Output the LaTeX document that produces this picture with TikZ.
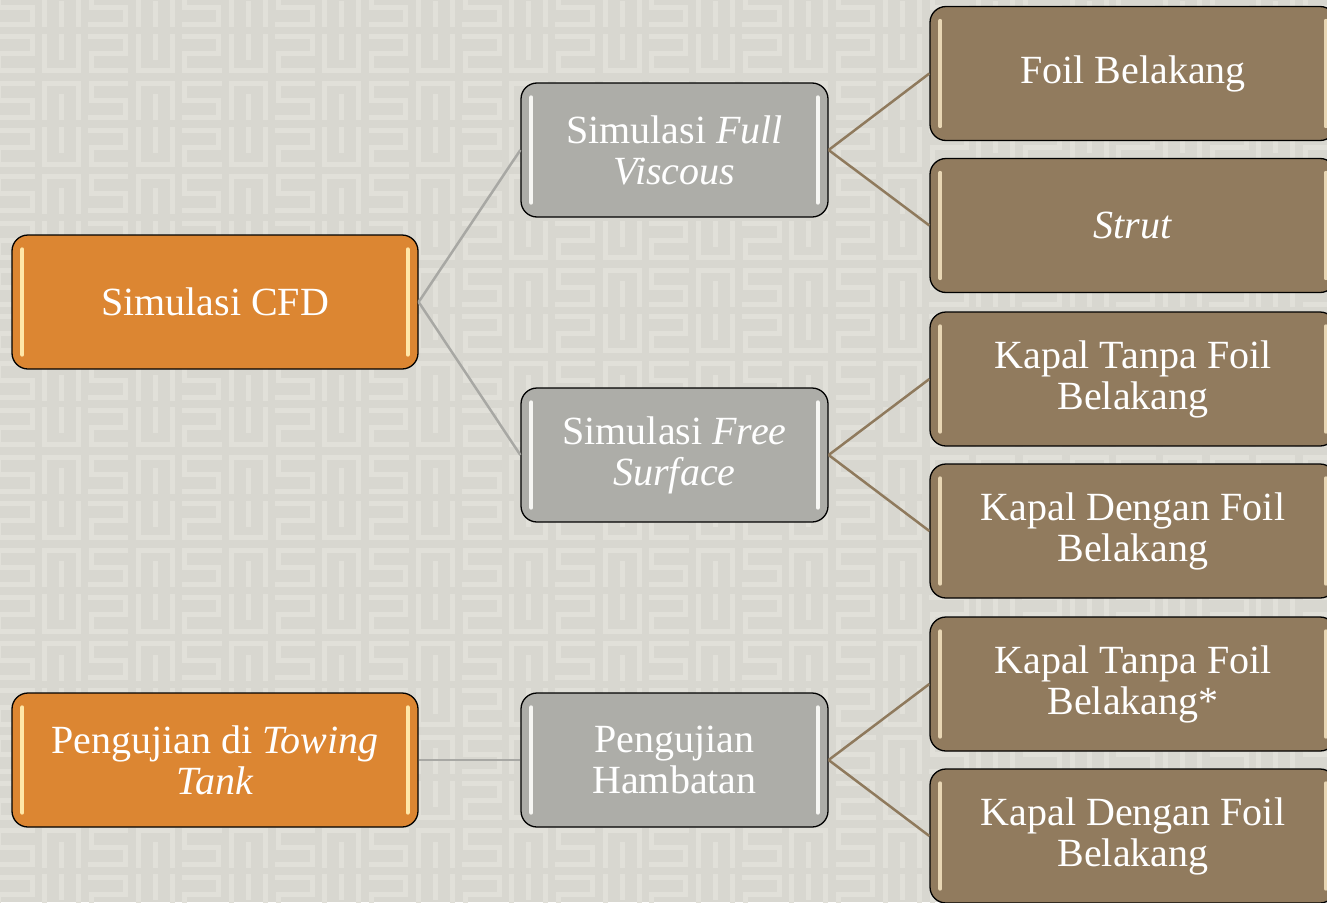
\documentclass[tikz,border=0pt]{standalone}
\usepackage{fontspec}
\setmainfont{Liberation Serif}
\definecolor{bgc}{RGB}{216,215,208}
\definecolor{patc}{RGB}{225,224,217}
\definecolor{orangec}{RGB}{220,134,50}
\definecolor{grayc}{RGB}{173,173,168}
\definecolor{brownc}{RGB}{145,123,94}
\definecolor{hlorange}{RGB}{255,231,168}
\definecolor{hlgray}{RGB}{246,246,243}
\definecolor{hlbrown}{RGB}{232,214,180}
\definecolor{linegray}{RGB}{168,168,164}
\definecolor{linebrown}{RGB}{143,122,93}
\begin{document}
\begin{tikzpicture}[x=1pt,y=-1pt,
  pat/.style={draw=patc,line width=5pt},
  box/.style={rectangle,rounded corners=16pt,draw=black,line width=1.3pt,
    minimum width=406pt,minimum height=134pt,inner sep=0pt,text=white,
    align=center,font=\fontsize{40}{41}\selectfont},
  obox/.style={box,fill=orangec},
  gbox/.style={box,fill=grayc,minimum width=307pt},
  bbox/.style={box,fill=brownc},
  gline/.style={draw=linegray,line width=2.5pt},
  bline/.style={draw=linebrown,line width=2.5pt}]
\useasboundingbox (0,0) rectangle (1327,902);
\begin{scope}
\clip (0,0) rectangle (1327,902);
\fill[bgc] (0,0) rectangle (1327,902);
\foreach \r in {0,...,19}{
 \foreach \c in {0,...,28}{
  \pgfmathtruncatemacro{\k}{mod(\r,2)*2+mod(\c,2)}
  \begin{scope}[shift={(\c*46.7-5,\r*46.7-13)}]
   \ifcase\k
     \draw[pat] (40,3)--(3,3)--(3,20)--(37,20)--(37,37)--(0,37);
   \or
     \draw[pat] (3,40)--(3,3)--(37,3)--(37,40) (20,14)--(20,40);
   \or
     \draw[pat] (0,3)--(37,3)--(37,20)--(3,20)--(3,37)--(40,37);
   \or
     \draw[pat] (3,0)--(3,37)--(37,37)--(37,0) (20,0)--(20,26);
   \fi
  \end{scope}
 }}

% nodes
\node[obox] (cfd) at (215,302) {Simulasi CFD};
\node[obox] (tow) at (215,760) {Pengujian di \textit{Towing}\\\textit{Tank}};
\node[gbox] (fv) at (674.5,150) {Simulasi \textit{Full}\\\textit{Viscous}};
\node[gbox] (fs) at (674.5,455) {Simulasi \textit{Free}\\\textit{Surface}};
\node[gbox] (ham) at (674.5,760) {Pengujian\\Hambatan};
\node[bbox] (r1) at (1133,73.5) {Foil Belakang};
\node[bbox] (r2) at (1133,225.5) {\textit{Strut}};
\node[bbox] (r3) at (1133,379) {Kapal Tanpa Foil\\Belakang};
\node[bbox] (r4) at (1133,531) {Kapal Dengan Foil\\Belakang};
\node[bbox] (r5) at (1133,684) {Kapal Tanpa Foil\\Belakang*};
\node[bbox] (r6) at (1133,836) {Kapal Dengan Foil\\Belakang};

% highlight strips
\foreach \n/\hc in {cfd/hlorange,tow/hlorange,fv/hlgray,fs/hlgray,ham/hlgray,
  r1/hlbrown,r2/hlbrown,r3/hlbrown,r4/hlbrown,r5/hlbrown,r6/hlbrown}{
  \draw[\hc,line width=4pt,line cap=round]
    ([xshift=11pt,yshift=-15pt]\n.north west) -- ([xshift=11pt,yshift=15pt]\n.south west);
  \draw[\hc,line width=4pt,line cap=round]
    ([xshift=-11pt,yshift=-15pt]\n.north east) -- ([xshift=-11pt,yshift=15pt]\n.south east);
}

% connectors
\draw[gline] (cfd.east) -- (fv.west);
\draw[gline] (cfd.east) -- (fs.west);
\draw[gline] (tow.east) -- (ham.west);
\draw[bline] (fv.east) -- (r1.west);
\draw[bline] (fv.east) -- (r2.west);
\draw[bline] (fs.east) -- (r3.west);
\draw[bline] (fs.east) -- (r4.west);
\draw[bline] (ham.east) -- (r5.west);
\draw[bline] (ham.east) -- (r6.west);
\end{scope}
\end{tikzpicture}
\end{document}
